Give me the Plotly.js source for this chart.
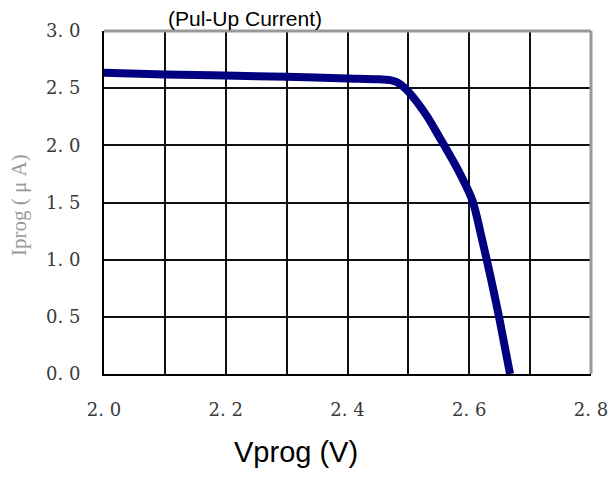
<!DOCTYPE html>
<html><head><meta charset="utf-8">
<script src="https://cdn.plot.ly/plotly-3.0.1.min.js"></script>
<style>html,body{margin:0;padding:0;background:#fff}#chart{width:613px;height:477px}</style>
</head><body><div id="chart"></div>
<script>
const vprog = [2.0, 2.1, 2.2, 2.3, 2.4, 2.45, 2.47, 2.48, 2.49, 2.5, 2.53, 2.55, 2.58, 2.605, 2.62, 2.635, 2.65, 2.667];
const iprog = [2.635, 2.62, 2.61, 2.60, 2.585, 2.578, 2.57, 2.555, 2.52, 2.47, 2.26, 2.08, 1.8, 1.52, 1.2, 0.85, 0.47, 0.0];
const xTickVals = [2.0, 2.1, 2.2, 2.3, 2.4, 2.5, 2.6, 2.7, 2.8];
const xTickText = ["2. 0", "", "2. 2", "", "2. 4", "", "2. 6", "", "2. 8"];
const yTickVals = [0, 0.5, 1.0, 1.5, 2.0, 2.5, 3.0];
const yTickText = ["0. 0", "0. 5", "1. 0", "1. 5", "2. 0", "2. 5", "3. 0"];

const trace = {
  x: vprog, y: iprog, type: 'scatter', mode: 'lines',
  line: {color: '#000080', width: 8, shape: 'spline', smoothing: 0.8},
  hoverinfo: 'skip'
};
const tickFont = {family: 'DejaVu Serif, Liberation Serif, serif', size: 18, color: '#3a3a3a'};
const layout = {
  width: 613, height: 477,
  margin: {l: 104, r: 22, t: 31, b: 103},
  paper_bgcolor: '#fff', plot_bgcolor: '#fff',
  showlegend: false,
  xaxis: {
    range: [2.0, 2.8], tickvals: xTickVals, ticktext: xTickText,
    showgrid: true, gridcolor: '#111', gridwidth: 2,
    showline: true, linecolor: '#000', linewidth: 2,
    zeroline: false, ticks: '', tickfont: tickFont, ticklabelstandoff: 18
  },
  yaxis: {
    range: [0, 3.0], tickvals: yTickVals, ticktext: yTickText,
    showgrid: true, gridcolor: '#111', gridwidth: 2,
    showline: true, linecolor: '#000', linewidth: 2,
    zeroline: false, ticks: '', tickfont: tickFont, ticklabelstandoff: 18
  },
  shapes: [
    {type: 'line', xref: 'paper', yref: 'paper', x0: 0, x1: 1, y0: 1, y1: 1, line: {color: '#999', width: 3}},
    {type: 'line', xref: 'paper', yref: 'paper', x0: 1, x1: 1, y0: 0, y1: 1, line: {color: '#999', width: 3}}
  ],
  annotations: [
    {text: '(Pul-Up Current)', xref: 'paper', yref: 'paper', x: (245-104)/487, y: 1 + (31-18)/343,
     xanchor: 'center', yanchor: 'middle', showarrow: false,
     font: {family: 'Liberation Sans, Arial, sans-serif', size: 21, color: '#000'}},
    {text: 'Vprog (V)', xref: 'paper', yref: 'paper', x: (296-104)/487, y: -(452-374)/343,
     xanchor: 'center', yanchor: 'middle', showarrow: false,
     font: {family: 'Liberation Sans, Arial, sans-serif', size: 29, color: '#000'}},
    {text: 'Iprog ( μ A)', xref: 'paper', yref: 'paper', x: -(104-19)/487, y: (374-205)/343,
     xanchor: 'center', yanchor: 'middle', showarrow: false, textangle: -90,
     font: {family: 'Liberation Serif, DejaVu Serif, serif', size: 21, color: '#999'}}
  ]
};
Plotly.newPlot('chart', [trace], layout, {displayModeBar: false, staticPlot: true});
</script></body></html>
